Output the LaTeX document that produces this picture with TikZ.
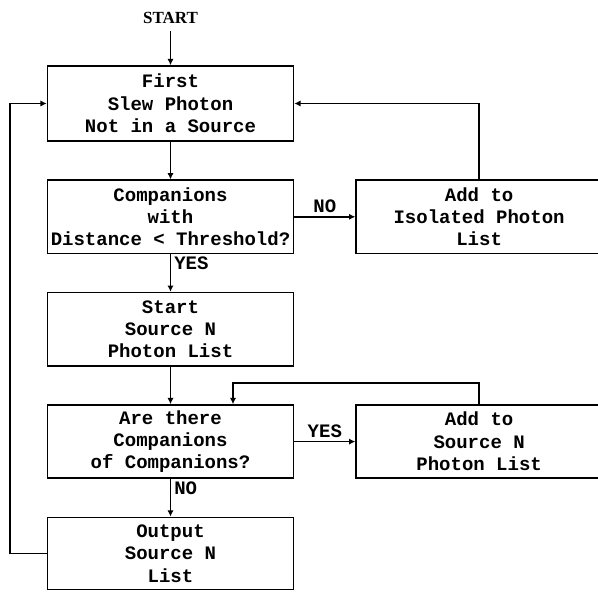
\documentclass[tikz,border=0pt]{standalone}
\usepackage{fontspec}
\usetikzlibrary{arrows.meta,positioning}
\newfontfamily\plotfont{Liberation Mono}
\newfontfamily\startfont{Liberation Serif}

\begin{document}
\begin{tikzpicture}[
   node distance=18.8pt and 30.5pt,
   box/.style={draw, line width=0.8pt, align=center, minimum width=123pt,
      minimum height=36.6pt, inner sep=1pt,
      font=\plotfont\bfseries\fontsize{9.5}{11.2}\selectfont},
   arrow/.style={-{Latex[length=1.1mm,width=1.1mm]}, line width=0.8pt},
   elab/.style={font=\plotfont\bfseries\fontsize{9.5}{11}\selectfont, inner sep=1.5pt}
]
\useasboundingbox (0,0) rectangle (299pt,-296pt);
\node[box, minimum height=37.5pt] (first) at (85.25pt,-51.75pt)
   {First\\Slew Photon\\Not in a Source};
\node[font=\startfont\bfseries\fontsize{8.5}{10}\selectfont, above=17pt of first]
   (begin) {START};
\node[box, below=of first] (cmp) {Companions\\with\\Distance < Threshold?};
\node[box, right=of cmp] (isol) {Add to\\Isolated Photon\\List};
\node[box, below=of cmp] (srcN) {Start\\Source N\\Photon List};
\node[box, below=of srcN] (more) {Are there\\Companions\\of Companions?};
\node[box, right=of more] (addsrc) {Add to\\Source N\\Photon List};
\node[box, below=of more, minimum height=36pt] (out) {Output\\Source N\\List};

\draw[arrow] (begin) -- (first);
\draw[arrow] (first) -- (cmp);
\draw[arrow] (cmp) -- node[elab, above] {NO} (isol);
\draw[arrow] (isol.north) |- (first.east);
\draw[arrow] (cmp) -- node[elab, right, near start] {YES} (srcN);
\draw[arrow] (srcN) -- (more);
\draw[arrow] (more) -- node[elab, above] {YES} (addsrc);
\draw[arrow] (addsrc.north) -- ++(0,10.5pt) -| ([xshift=31.25pt]more.north);
\draw[arrow] (more) -- node[elab, right, near start] {NO} (out);
\draw[arrow] (out.west) -- ++(-18.5pt,0) |- (first.west);
\end{tikzpicture}
\end{document}
